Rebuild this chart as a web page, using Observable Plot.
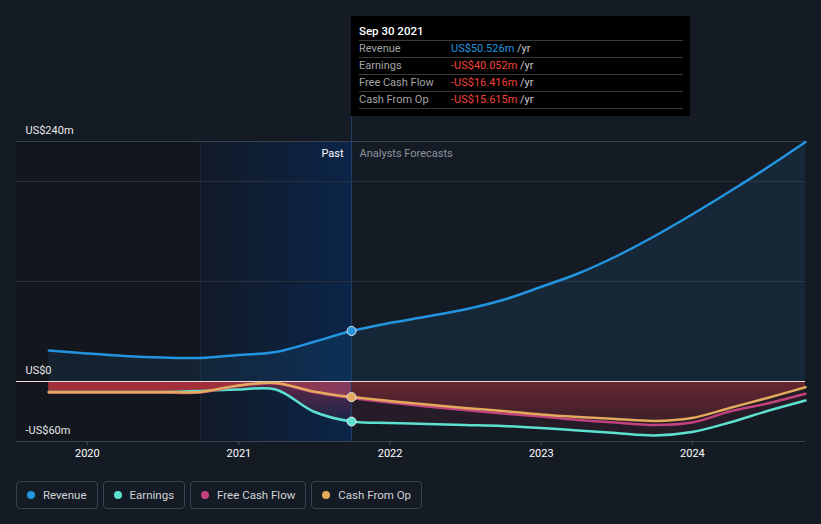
<!DOCTYPE html>
<html><head><meta charset="utf-8">
<script src="https://cdn.jsdelivr.net/npm/d3@7"></script>
<script src="https://cdn.jsdelivr.net/npm/@observablehq/plot@0.6"></script>
<style>
html,body{margin:0;padding:0;background:#151b24;font-family:Roboto,"Noto Sans",sans-serif;}
#wrap{position:relative;width:821px;height:524px;overflow:hidden;background:#151b24;}
#chart{position:absolute;left:0;top:0;}
#tip{position:absolute;left:351px;top:16px;width:339px;height:100px;background:#000;}
#tip div{position:absolute;white-space:nowrap;}
#legend{position:absolute;left:16px;top:481px;display:flex;gap:5px;}
.btn{box-sizing:border-box;height:28px;border:1px solid #3b414d;border-radius:4px;display:flex;align-items:center;padding:0 10px 0 10px;color:#cfd3d8;font-size:11.5px;}
.dot{width:8px;height:8px;border-radius:50%;margin-right:8px;}
</style></head>
<body><div id="wrap"><div id="chart"></div><div id="tip"></div><div id="legend"></div></div>
<script>
// ---- data ----
const quarterEnds = ["2019-09-30","2019-12-31","2020-03-31","2020-06-30","2020-09-30","2020-12-31","2021-03-31","2021-06-30","2021-09-30",
  "2021-12-31","2022-03-31","2022-06-30","2022-09-30","2022-12-31","2023-03-31","2023-06-30","2023-09-30","2023-12-31","2024-03-31","2024-06-30","2024-09-30"];
const revenue  = [31, 28, 25.5, 24, 23.5, 26.5, 29.5, 39.5, 50.526, 58.5, 65, 72, 81.5, 94.5, 108, 125, 145, 167, 190, 214, 239.5];
const earnings = [-10.5, -10.5, -10.5, -10.5, -9.5, -8, -8, -30, -40.052, -41.5, -42.5, -43.5, -44.5, -46.5, -49, -51.5, -54, -50.5, -41, -29.5, -19];
const fcf      = [-11, -11, -11, -11, -11, -4.5, -2, -10.5, -16.416, -21, -25, -28.5, -32, -35, -38.5, -41, -43.5, -41, -30, -22, -12.3];
const cfo      = [-10.7, -10.7, -10.7, -10.7, -10.5, -4, -1.5, -10, -15.615, -19.5, -23, -26.5, -29.5, -33, -35.5, -37.5, -39.5, -36.5, -26.5, -16.5, -5.7];
const seriesNames  = ["Revenue", "Earnings", "Free Cash Flow", "Cash From Op"];
const seriesColors = ["#2394df", "#5ce0d0", "#c2427f", "#e3a95c"];
const tipTitle = "Sep 30 2021";
const tipValues = ["US$50.526m", "-US$40.052m", "-US$16.416m", "-US$15.615m"];
const yLabelTicks = [240, 0, -60];
const yGridTicks = [200, 100];
const yearTicks = ["2020-01-01","2021-01-01","2022-01-01","2023-01-01","2024-01-01"];
const domainStart = "2019-07-14", domainEnd = "2024-09-30";
const forecastStart = "2021-09-30", pastYearStart = "2020-09-30";

// ---- build ----
const rows = quarterEnds.map((d,i)=>({date:new Date(d), revenue:revenue[i], earnings:earnings[i], fcf:fcf[i], cfo:cfo[i]}));
const split = new Date(forecastStart), hl = new Date(pastYearStart);
const x0 = new Date(domainStart), x1 = new Date(domainEnd);
const past = rows.filter(r=>r.date<=split), fc = rows.filter(r=>r.date>=split);
const splitRow = rows.find(r=>+r.date===+split);
const fmt = v => v===0 ? "US$0" : (v<0 ? "-US$"+Math.abs(v)+"m" : "US$"+v+"m");
const curve = "catmull-rom";

const plot = Plot.plot({
  width:821, height:470, marginTop:141, marginBottom:29, marginLeft:16, marginRight:16,
  style:{background:"transparent", color:"#fff", fontFamily:"Roboto, sans-serif", fontSize:"11px", overflow:"visible"},
  x:{type:"utc", domain:[x0,x1], axis:null},
  y:{domain:[-60,240], axis:null},
  marks:[
    Plot.rect([{a:x0,b:hl}], {x1:"a", x2:"b", y1:-60, y2:240, fill:"#12161d"}),
    Plot.rect([{a:hl,b:split}], {x1:"a", x2:"b", y1:-60, y2:240, fill:"url(#hlGrad)"}),
    Plot.ruleX([hl], {y1:-60, y2:240, stroke:"#1c2a40", strokeWidth:1}),
    Plot.ruleY(yGridTicks, {stroke:"#2a303b"}),
    Plot.ruleY([240], {stroke:"#3a404b"}),
    Plot.ruleY([-60], {stroke:"#3d434e"}),
    Plot.areaY(rows, {x:"date", y:"revenue", fill:"#2394df", fillOpacity:0.1, curve}),
    Plot.areaY(past, {x:"date", y:"earnings", fill:"url(#earnPast)", curve}),
    Plot.areaY(fc, {x:"date", y:"earnings", fill:"#e0304a", fillOpacity:0.08, curve}),
    Plot.areaY(past, {x:"date", y:"cfo", fill:"url(#negPast)", curve}),
    Plot.areaY(fc, {x:"date", y:"cfo", fill:"url(#negFc)", curve}),
    Plot.ruleX([split], {y1:-60, y2:365, stroke:"#24406a", strokeWidth:1}),
    Plot.ruleY([0], {stroke:"#f3dada", strokeWidth:1.2}),
    Plot.lineY(rows, {x:"date", y:"earnings", stroke:seriesColors[1], strokeWidth:2.5, curve}),
    Plot.lineY(rows, {x:"date", y:"fcf", stroke:seriesColors[2], strokeWidth:2.5, curve}),
    Plot.lineY(rows, {x:"date", y:"cfo", stroke:seriesColors[3], strokeWidth:2.5, curve}),
    Plot.lineY(rows, {x:"date", y:"revenue", stroke:seriesColors[0], strokeWidth:2.5, curve}),
    Plot.dot([splitRow], {x:"date", y:"revenue", r:4.5, fill:seriesColors[0], stroke:"#e6e6e6", strokeWidth:1}),
    Plot.dot([splitRow], {x:"date", y:"earnings", r:4.5, fill:seriesColors[1], stroke:"#e6e6e6", strokeWidth:1}),
    Plot.dot([splitRow], {x:"date", y:"cfo", r:4.5, fill:seriesColors[3], stroke:"#e6e6e6", strokeWidth:1}),
    Plot.text(["Past"], {x:split, y:228, text:d=>d, textAnchor:"end", dx:-8, fill:"#ffffff", fontSize:11}),
    Plot.text(["Analysts Forecasts"], {x:split, y:228, text:d=>d, textAnchor:"start", dx:8, fill:"#8b929c", fontSize:11}),
    Plot.text(yLabelTicks, {y:d=>d, text:fmt, frameAnchor:"left", textAnchor:"start", dx:9, dy:-11, fill:"#e8e8e8", fontSize:11}),
    Plot.axisX({ticks:yearTicks.map(d=>new Date(d)), tickFormat:d3.utcFormat("%Y"), tickSize:4, tickPadding:4, stroke:"#4a505b", fill:"#ffffff", label:null, fontSize:11})
  ]
});

const xs = plot.scale("x"), ys = plot.scale("y");
d3.select(plot).insert("defs", ":first-child").html(`
  <linearGradient id="hlGrad" x1="0" y1="0" x2="1" y2="0">
    <stop offset="0" stop-color="#121a27"/><stop offset="1" stop-color="#0b2548"/>
  </linearGradient>
  <linearGradient id="negPast" gradientUnits="userSpaceOnUse" x1="${xs.apply(hl)}" y1="0" x2="${xs.apply(split)}" y2="0">
    <stop offset="0" stop-color="#a1303a"/><stop offset="1" stop-color="#853b5e"/>
  </linearGradient>
  <linearGradient id="earnPast" gradientUnits="userSpaceOnUse" x1="0" y1="${ys.apply(0)}" x2="0" y2="${ys.apply(-42)}">
    <stop offset="0" stop-color="#c8325a" stop-opacity="0.45"/><stop offset="1" stop-color="#c8325a" stop-opacity="0.06"/>
  </linearGradient>
  <linearGradient id="negFc" gradientUnits="userSpaceOnUse" x1="0" y1="${ys.apply(0)}" x2="0" y2="${ys.apply(-45)}">
    <stop offset="0" stop-color="#652731"/><stop offset="1" stop-color="#3a1f28"/>
  </linearGradient>`);
document.getElementById("chart").appendChild(plot);

// tooltip
const tip = document.getElementById("tip");
const add = (html, css) => { const d = document.createElement("div"); d.innerHTML = html; Object.assign(d.style, css); tip.appendChild(d); };
add(tipTitle, {left:"8px", top:"7px", fontSize:"11.5px", lineHeight:"16px", color:"#fff", fontWeight:"500"});
for (let i=0;i<5;i++) add("", {left:"8px", top:(24+17*i)+"px", width:"324px", height:"1px", background:"#3a3a3a"});
seriesNames.forEach((n,i)=>{
  const top = (25+17*i)+"px";
  add(n, {left:"8px", top, height:"16px", lineHeight:"16px", fontSize:"11px", color:"#a3a3a3"});
  const col = tipValues[i].startsWith("-") ? "#f0403c" : "#2394df";
  add(`<span style="color:${col}">${tipValues[i]}</span> <span style="color:#c8c8c8">/yr</span>`, {left:"100px", top, height:"16px", lineHeight:"16px", fontSize:"11px"});
});

// legend
const lg = document.getElementById("legend");
seriesNames.forEach((n,i)=>{
  const b = document.createElement("div"); b.className="btn";
  b.innerHTML = `<span class="dot" style="background:${seriesColors[i]}"></span>${n}`;
  lg.appendChild(b);
});
</script></body></html>
